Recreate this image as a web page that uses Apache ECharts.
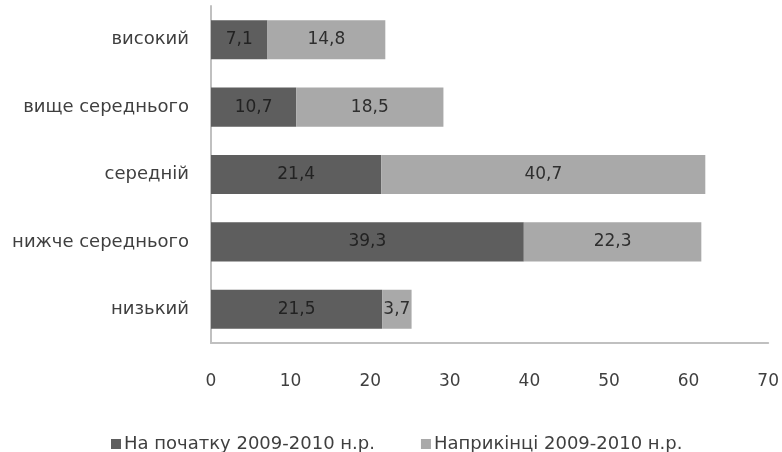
<!DOCTYPE html>
<html>
<head>
<meta charset="utf-8">
<script src="https://cdn.jsdelivr.net/npm/echarts@6/dist/echarts.min.js"></script>
<style>
  html, body { margin: 0; padding: 0; background: #fff; }
  #chart { width: 782px; height: 452px; }
</style>
</head>
<body>
<div id="chart"></div>
<script>
// categories bottom -> top
const categories = ["низький", "нижче середнього", "середній", "вище середнього", "високий"]
const seriesNames = ["На початку 2009-2010 н.р.", "Наприкінці 2009-2010 н.р."]
const startValues = [21.5, 39.3, 21.4, 10.7, 7.1]
const endValues = [3.7, 22.3, 40.7, 18.5, 14.8]
const xTicks = [0, 10, 20, 30, 40, 50, 60, 70]

const fontFamily = "'DejaVu Sans', sans-serif"
const fmt = p => String(p.value).replace(".", ",")

const chart = echarts.init(document.getElementById("chart"))

const options = {
    animation: false,
    textStyle: { fontFamily: fontFamily },
    grid: {
        left: 211,
        right: 12,
        top: 6,
        bottom: 109,
        containLabel: false,
    },
    legend: {
        data: seriesNames,
        left: 106,
        top: 430,
        itemWidth: 10,
        itemHeight: 10,
        itemGap: 46,
        icon: "rect",
        textStyle: { fontSize: 18, color: "#3f3f3f", fontFamily: fontFamily, padding: [0, 0, 0, -2] },
    },
    xAxis: {
        type: "value",
        min: xTicks[0],
        max: xTicks[xTicks.length - 1],
        interval: 10,
        axisLine: { show: true, lineStyle: { color: "#c0c0c0", width: 2 } },
        axisTick: { show: false },
        splitLine: { show: false },
        axisLabel: {
            color: "#3f3f3f",
            fontSize: 17,
            margin: 30,
        },
    },
    yAxis: {
        type: "category",
        data: categories,
        axisLine: { show: true, lineStyle: { color: "#c0c0c0", width: 2 } },
        axisTick: { show: false },
        axisLabel: {
            color: "#3f3f3f",
            fontSize: 18,
            margin: 22,
        },
    },
    series: [
        {
            name: seriesNames[0],
            type: "bar",
            stack: "total",
            data: startValues,
            barCategoryGap: "42%",
            itemStyle: { color: "#5e5e5e" },
            label: {
                show: true,
                position: "inside",
                formatter: fmt,
                color: "#222222",
                fontSize: 17,
            },
        },
        {
            name: seriesNames[1],
            type: "bar",
            stack: "total",
            data: endValues,
            barCategoryGap: "42%",
            itemStyle: { color: "#a9a9a9" },
            label: {
                show: true,
                position: "inside",
                formatter: fmt,
                color: "#2e2e2e",
                fontSize: 17,
            },
        },
    ],
}

chart.setOption(options, true)
</script>
</body>
</html>
